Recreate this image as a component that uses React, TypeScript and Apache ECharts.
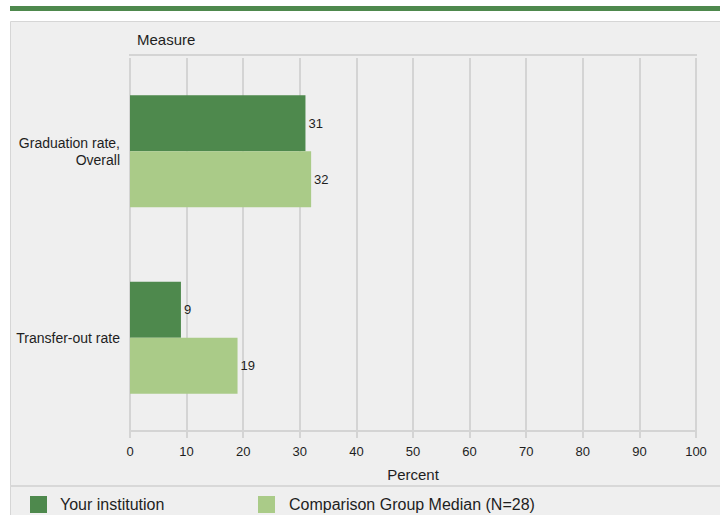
import React, { useEffect, useRef } from "react";
import * as echarts from "echarts";

const categories = ["Graduation rate,\nOverall", "Transfer-out rate"];
const seriesNames = ["Your institution", "Comparison Group Median (N=28)"];
const yourInstitution = [31, 9];
const comparisonMedian = [32, 19];
const xTicks = { min: 0, max: 100, interval: 10 };

const DARK = "#4e894d";
const LIGHT = "#aacb88";
const FONT = "'Liberation Sans', Arial, sans-serif";
const TEXT = "#1e1e1e";
const GRIDLINE = "#d4d4d4";

export default function App() {
  const ref = useRef<HTMLDivElement>(null);
  useEffect(() => {
    document.body.style.margin = "0";
    const chart = echarts.init(ref.current!, null, { renderer: "svg" });
    chart.setOption({
      animation: false,
      backgroundColor: "#ffffff",
      textStyle: { fontFamily: FONT },
      graphic: [
        { type: "rect", z: -10, silent: true, shape: { x: 10, y: 6, width: 712, height: 5 }, style: { fill: DARK } },
        {
          type: "rect", z: -10, silent: true,
          shape: { x: 10.5, y: 21.5, width: 720, height: 500 },
          style: { fill: "#efefef", stroke: "#d6d6d6", lineWidth: 1 },
        },
        {
          type: "line", z: -9, silent: true,
          shape: { x1: 10, y1: 486, x2: 720, y2: 486 },
          style: { stroke: "#d8d8d8", lineWidth: 2 },
        },
        {
          type: "line", z: -9, silent: true,
          shape: { x1: 129, y1: 55, x2: 697, y2: 55 },
          style: { stroke: GRIDLINE, lineWidth: 2 },
        },
      ],
      title: {
        text: "Measure",
        left: 132,
        top: 27,
        textStyle: { fontFamily: FONT, fontSize: 15, fontWeight: "normal", color: TEXT },
      },
      legend: [
        {
          data: [seriesNames[0]],
          left: 30,
          top: 496,
          padding: 0,
          icon: "rect",
          itemWidth: 17,
          itemHeight: 17,
          selectedMode: false,
          textStyle: { fontFamily: FONT, fontSize: 16, color: TEXT, padding: [0, 0, 0, 8] },
        },
        {
          data: [seriesNames[1]],
          left: 258,
          top: 496,
          padding: 0,
          icon: "rect",
          itemWidth: 17,
          itemHeight: 17,
          selectedMode: false,
          textStyle: { fontFamily: FONT, fontSize: 16, color: TEXT, padding: [0, 0, 0, 9] },
        },
      ],
      grid: {
        left: 130,
        right: 24,
        top: 58,
        bottom: 84,
      },
      xAxis: {
        type: "value",
        min: xTicks.min,
        max: xTicks.max,
        interval: xTicks.interval,
        name: "Percent",
        nameLocation: "middle",
        nameGap: 36,
        nameTextStyle: { fontFamily: FONT, fontSize: 15, color: TEXT },
        axisLine: { show: true, lineStyle: { color: GRIDLINE, width: 2 } },
        axisTick: { show: true, length: 7, lineStyle: { color: GRIDLINE, width: 2 } },
        axisLabel: { fontFamily: FONT, fontSize: 13, color: TEXT, margin: 14 },
        splitLine: { show: true, lineStyle: { color: GRIDLINE, width: 2 } },
      },
      yAxis: {
        type: "category",
        data: categories,
        inverse: true,
        axisLine: { show: false },
        axisTick: { show: false },
        axisLabel: { fontFamily: FONT, fontSize: 14, color: TEXT, margin: 10, lineHeight: 17, align: "right" },
      },
      series: [
        {
          name: seriesNames[0],
          type: "bar",
          data: yourInstitution,
          barGap: "0%",
          barCategoryGap: "40%",
          itemStyle: { color: DARK },
          label: { show: true, position: "right", distance: 3, fontFamily: FONT, fontSize: 13, color: TEXT },
        },
        {
          name: seriesNames[1],
          type: "bar",
          data: comparisonMedian,
          barGap: "0%",
          barCategoryGap: "40%",
          itemStyle: { color: LIGHT },
          label: { show: true, position: "right", distance: 3, fontFamily: FONT, fontSize: 13, color: TEXT },
        },
      ],
    });
    return () => chart.dispose();
  }, []);
  return <div ref={ref} style={{ width: 720, height: 515 }} />;
}
